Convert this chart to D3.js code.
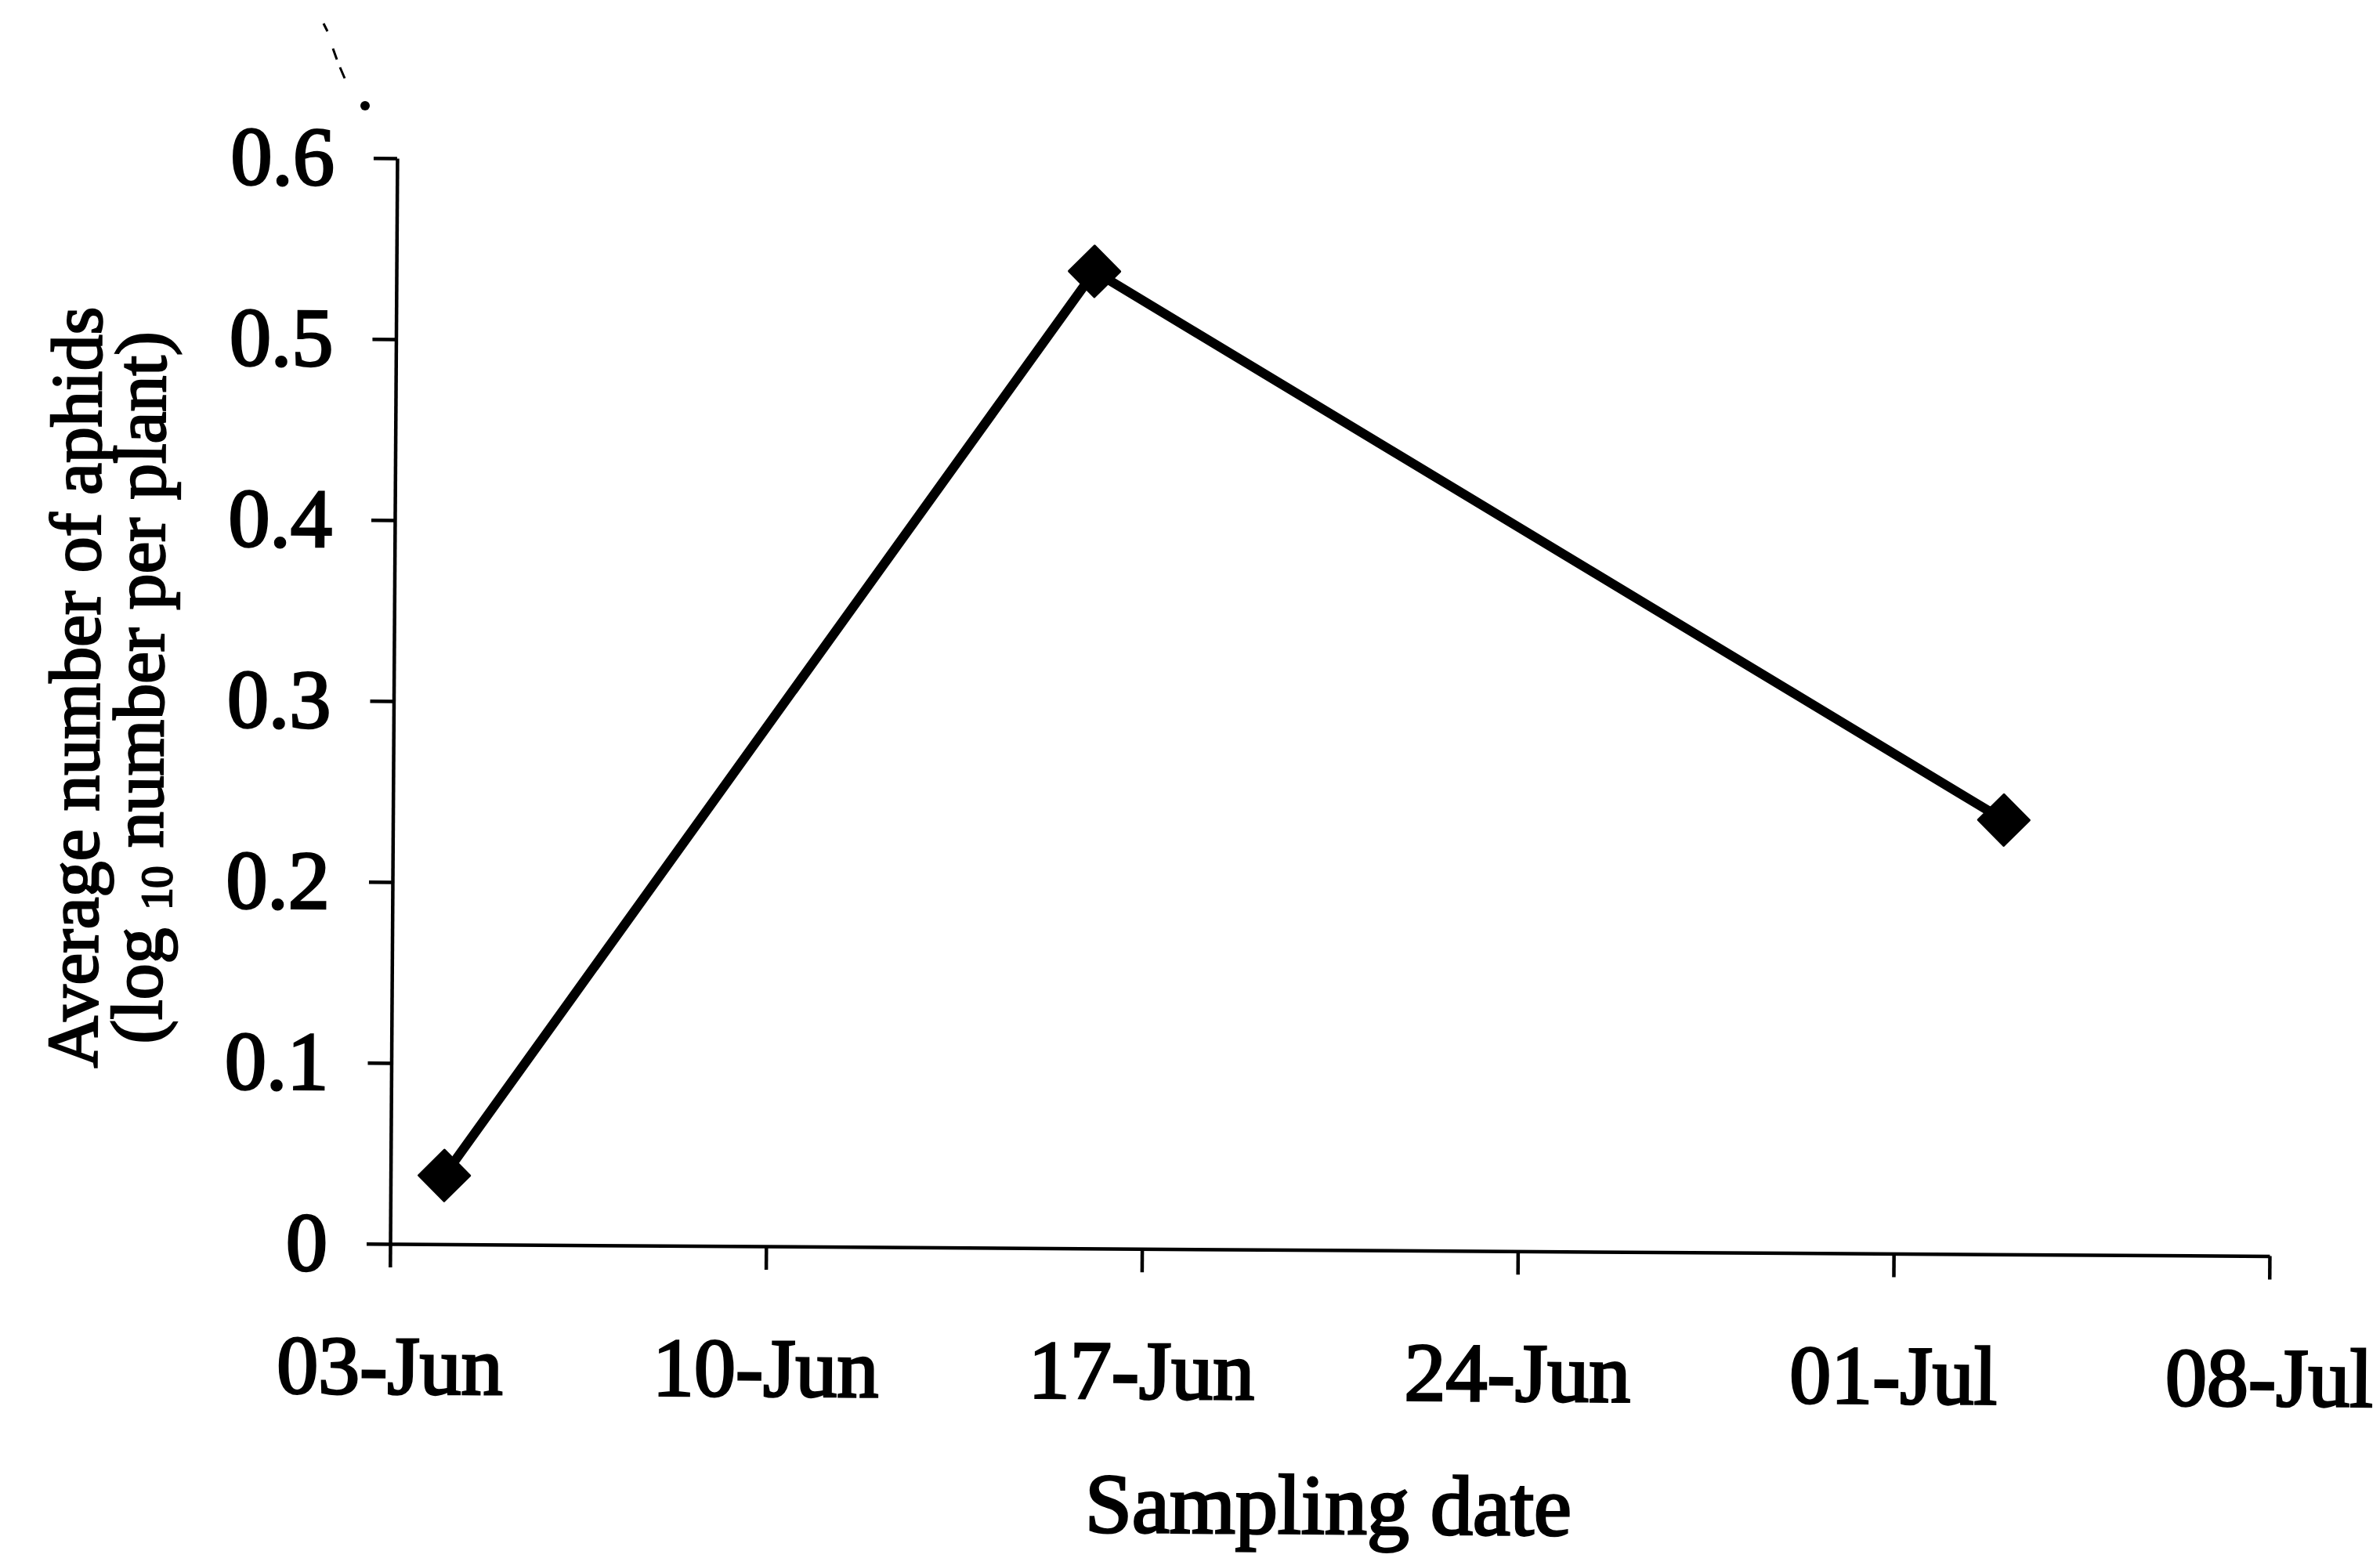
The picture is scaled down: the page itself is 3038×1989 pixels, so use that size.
<html>

<head>
  <meta charset="utf8">
  <title>Aphids per plant</title>
  <style>
    * {
      margin: 0;
      padding: 0;
    }
    body {
      background: #fff;
    }
  </style>
</head>

<body>
  <script src="https://cdn.jsdelivr.net/npm/d3@7"></script>
  <script>
    var w = 3038
    var h = 1989

    // sampling dates and mean aphid counts (log10 per plant)
    var sampleDates = ['2003-06-04', '2003-06-16', '2003-07-03']
    var aphidLog = [0.038, 0.54, 0.24]

    // axis ticks
    var xTickDates = ['2003-06-03', '2003-06-10', '2003-06-17', '2003-06-24', '2003-07-01', '2003-07-08']
    var yTicks = [0, 0.1, 0.2, 0.3, 0.4, 0.5, 0.6]

    var parse = d3.timeParse('%Y-%m-%d')
    var dataset = sampleDates.map((d, i) => ({ date: parse(d), value: aphidLog[i] }))

    // plot box (window.top is read-only, so no plain "top" here)
    var plotLeft = 498
    var plotRight = 2897
    var plotTop = 202
    var plotBottom = 1588

    var xScale = d3.scaleTime()
      .domain([parse(xTickDates[0]), parse(xTickDates[xTickDates.length - 1])])
      .range([plotLeft, plotRight])
    var yScale = d3.scaleLinear().domain([0, 0.6]).range([plotBottom, plotTop])

    var svg = d3.select('body').append('svg').attr('width', w).attr('height', h)

    // the scan is turned a little clockwise
    var g = svg.append('g').attr('transform', 'rotate(0.37,' + plotLeft + ',' + plotBottom + ')')

    var font = '"Liberation Serif", "Times New Roman", serif'

    var xAxis = d3.axisBottom(xScale)
      .tickValues(xTickDates.map(parse))
      .tickFormat(d3.timeFormat('%d-%b'))
      .tickSize(30)
      .tickSizeOuter(0)
      .tickPadding(86)

    var yAxis = d3.axisLeft(yScale)
      .tickValues(yTicks)
      .tickFormat(d => d === 0 ? '0' : d3.format('.1f')(d))
      .tickSize(30)
      .tickSizeOuter(0)
      .tickPadding(50)

    var gx = g.append('g').attr('transform', 'translate(0,' + plotBottom + ')').call(xAxis)
    var gy = g.append('g').attr('transform', 'translate(' + plotLeft + ',0)').call(yAxis)

    ;[gx, gy].forEach(a => {
      a.selectAll('path, line').attr('stroke', '#000').attr('stroke-width', 4.5)
      a.selectAll('text')
        .attr('font-family', font)
        .attr('font-size', '106px')
        .attr('fill', '#000')
        .attr('stroke', '#000')
        .attr('stroke-width', 3)
    })

    // series line
    var line = d3.line().x(d => xScale(d.date)).y(d => yScale(d.value))
    g.append('path')
      .datum(dataset)
      .attr('d', line)
      .attr('fill', 'none')
      .attr('stroke', '#000')
      .attr('stroke-width', 12)
      .attr('stroke-linejoin', 'round')

    g.selectAll('.marker')
      .data(dataset)
      .enter()
      .append('path')
      .attr('class', 'marker')
      .attr('d', d3.symbol(d3.symbolSquare, 46 * 46))
      .attr('transform', d => 'translate(' + xScale(d.date) + ',' + yScale(d.value) + ') rotate(45)')
      .attr('fill', '#000')
      .attr('stroke', '#000')
      .attr('stroke-width', 3)
      .attr('stroke-linejoin', 'round')

    // axis titles
    g.append('text')
      .attr('x', (plotLeft + plotRight) / 2)
      .attr('y', 1950)
      .attr('text-anchor', 'middle')
      .attr('font-family', font)
      .attr('font-size', '108px')
      .attr('stroke', '#000')
      .attr('stroke-width', 3)
      .text('Sampling date')

    var yt = g.append('text')
      .attr('transform', 'translate(0,880) rotate(-90)')
      .attr('text-anchor', 'middle')
      .attr('font-family', font)
      .attr('font-size', '92px')
      .attr('stroke', '#000')
      .attr('stroke-width', 2.5)
    yt.append('tspan').attr('x', 0).attr('y', 122).text('Average number of aphids')
    var l2 = yt.append('tspan').attr('x', 0).attr('y', 204)
    l2.append('tspan').text('(log ')
    l2.append('tspan').attr('font-size', '56px').attr('dy', 12).text('10')
    l2.append('tspan').attr('dy', -12).text(' number per plant)')

    // speck left over from the scan, above the y axis
    svg.append('path')
      .attr('d', 'M413,30 L418,40 M425,62 L430,76 M434,86 L440,100')
      .attr('stroke', '#000')
      .attr('stroke-width', 3)
    svg.append('circle').attr('cx', 466).attr('cy', 135).attr('r', 6).attr('fill', '#000')
  </script>
</body>

</html>
